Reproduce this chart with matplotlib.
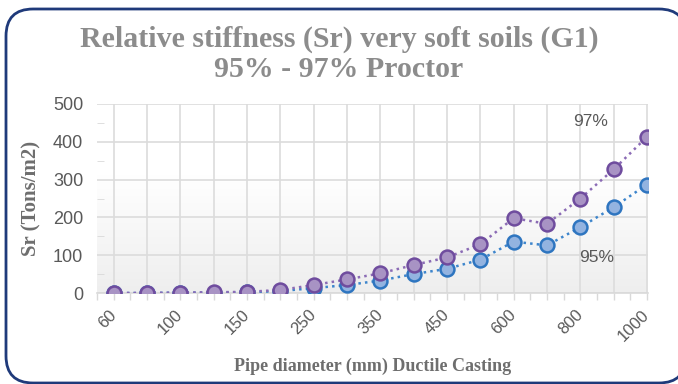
import matplotlib.pyplot as plt
import numpy as np
from matplotlib.patches import FancyBboxPatch
from matplotlib.colors import LinearSegmentedColormap

# Pipe diameters (mm) and relative stiffness values (Tons/m2)
diameters = [60, 80, 100, 125, 150, 200, 250, 300, 350, 400, 450, 500, 600, 700, 800, 900, 1000]
sr_95 = [0, 0, 1, 1, 2, 5, 13, 21, 33, 50, 64, 88, 136, 126, 174, 227, 287]
sr_97 = [0, 0, 1, 2, 3, 8, 21, 36, 52, 74, 94, 129, 198, 183, 250, 327, 413]

fig = plt.figure(figsize=(6.78, 3.84), dpi=100)

# Rounded frame around the whole chart
frame = FancyBboxPatch((6 / 678, 1 / 384), 680 / 678, 374 / 384,
                       boxstyle="round,pad=0,rounding_size=0.04",
                       transform=fig.transFigure, facecolor='white',
                       edgecolor='#1F3A7A', linewidth=2, mutation_aspect=678 / 384,
                       clip_on=False, zorder=-10)
fig.patches.append(frame)

ax = fig.add_axes([97 / 678, 1 - 293 / 384, 551 / 678, 189 / 384])
ax.set_facecolor('none')

x = np.arange(len(diameters))

# Soft gradient in the plot area (white at top, light gray at bottom)
grad = np.linspace(1.0, 0.0, 256).reshape(-1, 1)
grad = np.clip(grad * 1.6, 0, 1)
cmap = LinearSegmentedColormap.from_list('g', ['#EEEEEE', '#FFFFFF'])
ax.imshow(grad, extent=[0, 1, 0, 1], transform=ax.transAxes, aspect='auto',
          cmap=cmap, vmin=0, vmax=1, zorder=0)

ax.plot(x, sr_95, linestyle=':', color='#3D85CC', linewidth=1.8, marker='o',
        markersize=10, markerfacecolor='#93B3E0', markeredgecolor='#2E75C0',
        markeredgewidth=1.8, zorder=3)
ax.plot(x, sr_97, linestyle=':', color='#8B6BB5', linewidth=1.8, marker='o',
        markersize=10, markerfacecolor='#A893C4', markeredgecolor='#6F4C9E',
        markeredgewidth=1.8, zorder=4)

ax.text(14.3, 455, '97%', fontsize=12.5, color='#595959', ha='center', va='center',
        family='Liberation Sans')
ax.text(14.5, 93, '95%', fontsize=12.5, color='#595959', ha='center', va='center',
        family='Liberation Sans')

ax.set_xlim(-0.17, 16.03)
ax.set_ylim(0, 500)
ax.set_xticks(x)
ax.set_xticklabels([str(d) if i % 2 == 0 else '' for i, d in enumerate(diameters)])
ax.set_xticks(np.arange(-0.5, 16.5, 1.0), minor=True)
ax.set_yticks(np.arange(0, 501, 100))
ax.set_yticks(np.arange(50, 500, 100), minor=True)

ax.grid(True, which='major', color='#DCDCDC', linewidth=1.2, zorder=1)
ax.set_axisbelow(True)
for s in ['top', 'right', 'left']:
    ax.spines[s].set_visible(False)
ax.spines['bottom'].set_color('#D9D9D9')
ax.spines['bottom'].set_linewidth(1.2)

ax.tick_params(axis='x', which='both', colors='#D9D9D9', length=5, width=1,
               labelcolor='#595959', labelsize=12, pad=9)
ax.tick_params(axis='y', which='major', length=0, labelcolor='#595959', labelsize=13, pad=10)
ax.tick_params(axis='y', which='minor', length=5, direction='in', colors='#D9D9D9')
for lbl in ax.get_xticklabels():
    lbl.set_family('Liberation Sans')
    lbl.set_rotation(45)
    lbl.set_rotation_mode('anchor')
    lbl.set_ha('right')
    lbl.set_va('center')
for lbl in ax.get_yticklabels():
    lbl.set_family('Liberation Sans')

ax.set_ylabel('Sr (Tons/m2)', fontsize=15, fontweight='bold', color='#6E6E6E',
              family='Liberation Serif', labelpad=8)
ax.set_xlabel('Pipe diameter (mm) Ductile Casting', fontsize=13, fontweight='bold',
              color='#6E6E6E', family='Liberation Serif', labelpad=10)

fig.text(0.5, 1 - 54 / 384, 'Relative stiffness (Sr) very soft soils (G1)\n95% - 97% Proctor',
         ha='center', va='center', fontsize=21.5, fontweight='bold', color='#8C8C8C',
         family='Liberation Serif', linespacing=1.15)

fig.savefig('out.png', dpi=100)
